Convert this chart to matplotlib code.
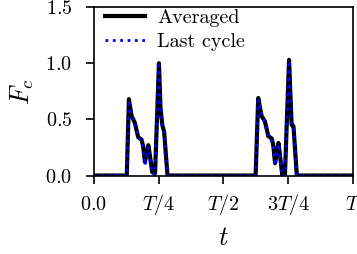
import numpy as np
import matplotlib
matplotlib.use("Agg")
import matplotlib.pyplot as plt

plt.rcParams['font.family'] = 'serif'
plt.rcParams['font.serif'] = ['cmr10']
plt.rcParams['mathtext.fontset'] = 'cm'
plt.rcParams['axes.formatter.use_mathtext'] = True

### time in units of the period T
t_avg = [0.0, 0.127, 0.135, 0.1455, 0.158, 0.171, 0.184, 0.190, 0.197, 0.210, 0.216, 0.225,
         0.236, 0.251, 0.257, 0.264, 0.271, 0.284,
         0.624, 0.634, 0.647, 0.660, 0.673, 0.686, 0.692, 0.699, 0.712, 0.718, 0.727,
         0.737, 0.753, 0.763, 0.770, 0.783, 1.0]
f_avg = [0.0, 0.0, 0.68, 0.53, 0.47, 0.34, 0.32, 0.26, 0.12, 0.27, 0.18, 0.03,
         0.02, 1.00, 0.60, 0.45, 0.39, 0.0,
         0.0, 0.69, 0.53, 0.48, 0.35, 0.33, 0.27, 0.11, 0.29, 0.18, 0.0,
         0.0, 1.03, 0.45, 0.44, 0.0, 0.0]

t_last = [0.0, 0.127, 0.135, 0.1455, 0.158, 0.171, 0.184, 0.190, 0.197, 0.210, 0.216, 0.225,
          0.236, 0.251, 0.257, 0.264, 0.271, 0.284,
          0.624, 0.634, 0.647, 0.660, 0.673, 0.686, 0.692, 0.699, 0.712, 0.718, 0.727,
          0.737, 0.753, 0.763, 0.770, 0.783, 1.0]
f_last = [0.0, 0.0, 0.67, 0.55, 0.46, 0.35, 0.30, 0.25, 0.09, 0.25, 0.16, 0.02,
          0.01, 0.98, 0.62, 0.46, 0.40, 0.0,
          0.0, 0.67, 0.55, 0.47, 0.34, 0.31, 0.28, 0.09, 0.28, 0.17, 0.0,
          0.0, 1.02, 0.47, 0.43, 0.0, 0.0]

xticks = [0.0, 0.25, 0.5, 0.75, 1.0]
xlabels = ['$0.0$', '$T/4$', '$T/2$', '$3T/4$', '$T$']
yticks = [0.0, 0.5, 1.0, 1.5]

fig = plt.figure(figsize=(3.57, 2.54), dpi=100)
ax = fig.add_axes([0.263, 0.309, 0.726, 0.663])
ax.plot(t_avg, f_avg, color='black', lw=3.0, label='Averaged')
ax.plot(t_last, f_last, color='blue', lw=2.0, ls=':', label='Last cycle')

ax.set_xlim(0, 1)
ax.set_ylim(0, 1.5)
ax.set_xticks(xticks)
ax.set_xticklabels(xlabels, va='baseline')
ax.set_yticks(yticks)
ax.set_yticklabels(['$%.1f$' % v for v in yticks])
ax.tick_params(labelsize=14.5, direction='out', length=6, width=1.2)
ax.tick_params(axis='x', pad=19)
ax.tick_params(axis='y', pad=9.5)
for s in ax.spines.values():
    s.set_linewidth(1.2)
ax.set_xlabel('$t$', fontsize=19)
ax.set_ylabel('$F_c$', fontsize=19)
ax.xaxis.set_label_coords(0.5, -0.30)
ax.yaxis.set_label_coords(-0.225, 0.5)
ax.legend(loc='upper left', bbox_to_anchor=(0.035, 1.0), frameon=False, fontsize=14.5,
          handlelength=2.0, borderaxespad=0.0, labelspacing=0.3, borderpad=0.1,
          handletextpad=0.6)

fig.savefig('out.png', dpi=100)
